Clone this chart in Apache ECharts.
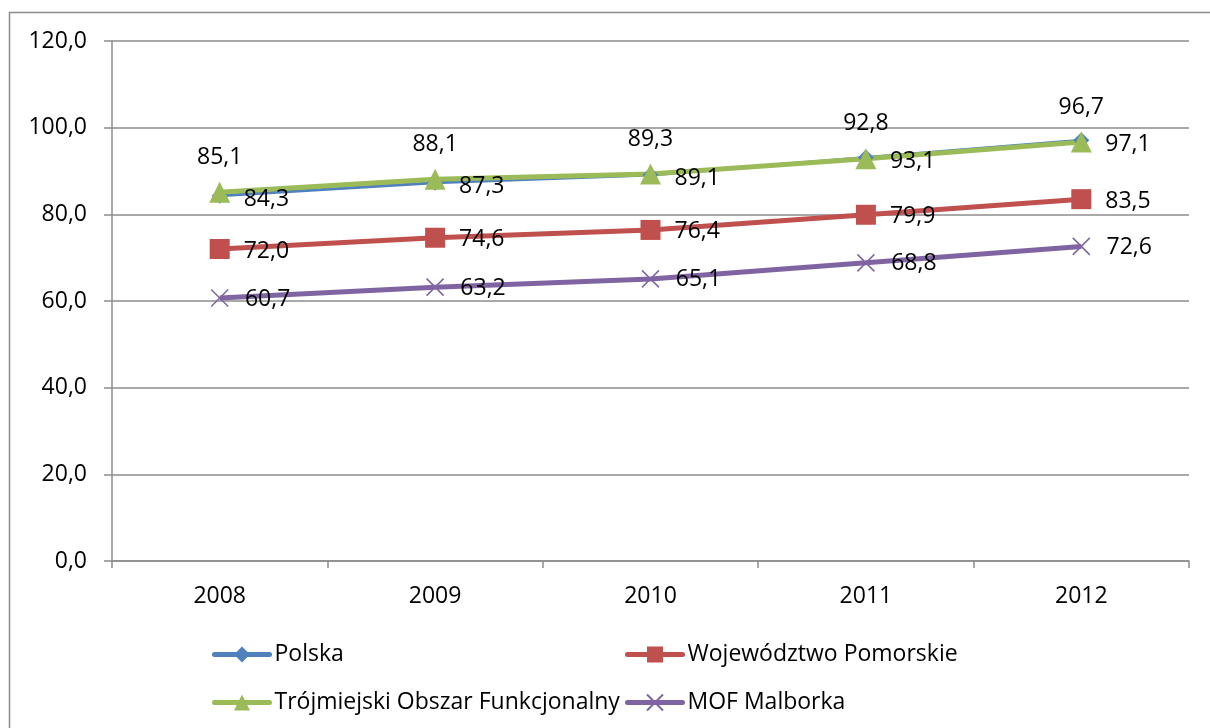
<!doctype html>
<html lang="pl">
<head>
    <meta charset="utf-8">
    <script src="https://cdn.jsdelivr.net/npm/echarts@6/dist/echarts.min.js"></script>
    <style>
        html, body { margin: 0; padding: 0; background: #fff; }
    </style>
</head>
<body>
<div id="main" style="width: 1210px; height: 728px;"></div>

<script type="text/javascript">
    // dane z wykresu
    var years = ['2008', '2009', '2010', '2011', '2012'];
    var polska = [84.3, 87.3, 89.1, 93.1, 97.1];
    var pomorskie = [72.0, 74.6, 76.4, 79.9, 83.5];
    var trojmiasto = [85.1, 88.1, 89.3, 92.8, 96.7];
    var malbork = [60.7, 63.2, 65.1, 68.8, 72.6];
    var yTicks = [0, 20, 40, 60, 80, 100, 120];

    var font = 'Open Sans';
    var fs = 23;
    var gridColor = '#8c8c8c';

    function fmt(v) {
        return Number(v).toFixed(1).replace('.', ',');
    }

    var labelStyle = {
        show: true,
        fontFamily: font,
        fontSize: fs,
        color: '#000',
        formatter: function (p) { return fmt(p.value); }
    };

    var legendBase = {
        orient: 'vertical',
        top: 638,
        itemWidth: 55,
        itemHeight: 20,
        itemGap: 25,
        lineStyle: { width: 5, cap: 'round' },
        textStyle: { fontFamily: font, fontSize: fs, color: '#000' }
    };

    var myChart = echarts.init(document.getElementById('main'));
    myChart.setOption({
        animation: false,
        backgroundColor: '#fff',
        graphic: [{
            type: 'rect',
            shape: { x: 9.5, y: 12.5, width: 1400, height: 900 },
            style: { fill: 'none', stroke: gridColor, lineWidth: 1.5 },
            silent: true
        }],
        grid: { left: 112, right: 21, top: 41, bottom: 167 },
        legend: [
            Object.assign({ left: 207, data: ['Polska', 'Trójmiejski Obszar Funkcjonalny'] }, legendBase),
            Object.assign({ left: 620, data: ['Województwo Pomorskie', 'MOF Malborka'] }, legendBase)
        ],
        xAxis: {
            type: 'category',
            data: years,
            boundaryGap: true,
            axisLine: { lineStyle: { color: gridColor, width: 1.5 } },
            axisTick: { show: true, length: 7, lineStyle: { color: gridColor, width: 1.5 } },
            axisLabel: { fontFamily: font, fontSize: fs, color: '#000', margin: 24 }
        },
        yAxis: {
            type: 'value',
            min: yTicks[0],
            max: yTicks[yTicks.length - 1],
            interval: 20,
            axisLine: { show: true, lineStyle: { color: gridColor, width: 1.5 } },
            axisTick: { show: true, length: 8, lineStyle: { color: gridColor, width: 1.5 } },
            splitLine: { lineStyle: { color: gridColor, width: 1.5 } },
            axisLabel: {
                fontFamily: font, fontSize: fs, color: '#000', margin: 25,
                formatter: function (v) { return fmt(v); }
            }
        },
        series: [{
            name: 'Polska',
            type: 'line',
            data: polska,
            color: '#4F81BD',
            symbol: 'diamond',
            symbolSize: 16,
            lineStyle: { width: 3 },
            label: Object.assign({ position: 'right', distance: 16, offset: [0, 4] }, labelStyle)
        }, {
            name: 'Województwo Pomorskie',
            type: 'line',
            data: pomorskie,
            color: '#C0504D',
            symbol: 'rect',
            symbolSize: 20,
            lineStyle: { width: 5 },
            label: Object.assign({ position: 'right', distance: 14, offset: [0, 2] }, labelStyle)
        }, {
            name: 'Trójmiejski Obszar Funkcjonalny',
            type: 'line',
            data: trojmiasto,
            color: '#9BBB59',
            symbol: 'triangle',
            symbolSize: 21,
            lineStyle: { width: 5 },
            label: Object.assign({ position: 'top', distance: 13 }, labelStyle)
        }, {
            name: 'MOF Malborka',
            type: 'line',
            data: malbork,
            color: '#8064A2',
            symbol: 'path://M0,0L10,10M10,0L0,10',
            symbolSize: 17,
            itemStyle: { borderColor: '#8064A2', borderWidth: 1.5 },
            lineStyle: { width: 5 },
            label: Object.assign({ position: 'right', distance: 16, offset: [0, 1] }, labelStyle)
        }]
    });
</script>
</body>
</html>
